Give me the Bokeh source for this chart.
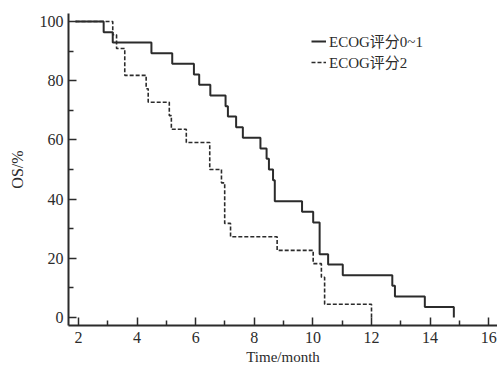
from bokeh.plotting import figure
from bokeh.models import Range1d, Legend, LegendItem, FixedTicker
from bokeh.embed import file_html
from bokeh.resources import INLINE

# ECOG 0~1 (solid) — Kaplan-Meier steps
t_ecog01 = [1.9, 2.86, 3.17, 4.49, 5.2, 5.94, 6.12, 6.5, 7.02, 7.1, 7.38, 7.61,
            8.21, 8.42, 8.5, 8.64, 8.7, 9.63, 10.01, 10.23, 10.52, 11.02,
            12.71, 12.8, 13.82, 14.81]
s_ecog01 = [100, 96.4, 92.9, 89.3, 85.7, 82.1, 78.6, 75.0, 71.4, 67.9, 64.3, 60.7,
            57.1, 53.6, 50.0, 46.4, 39.3, 35.7, 32.1, 21.4, 17.9, 14.3,
            10.7, 7.1, 3.6, 0]

# ECOG 2 (dashed)
t_ecog2 = [1.9, 3.17, 3.3, 3.58, 4.31, 4.38, 5.1, 5.17, 5.68, 6.48, 6.88, 6.99,
           7.19, 8.78, 10.01, 10.29, 10.4, 12.0]
s_ecog2 = [100, 95.5, 90.9, 81.8, 77.3, 72.7, 68.2, 63.6, 59.1, 50.0, 45.5, 31.8,
           27.3, 22.7, 18.2, 13.6, 4.5, 0]

x_ticks = [2, 4, 6, 8, 10, 12, 14, 16]
y_ticks = [0, 20, 40, 60, 80, 100]
label_01 = "ECOG评分0~1"
label_2 = "ECOG评分2"
x_title = "Time/month"
y_title = "OS/%"

FONT = "Liberation Serif, Noto Sans CJK SC"
INK = "#2b2b2b"

p = figure(width=497, height=367, output_backend="svg", toolbar_location=None,
           x_range=Range1d(1.66, 16.3), y_range=Range1d(-2.69, 102.7),
           min_border_left=68, min_border_right=0, min_border_top=13,
           min_border_bottom=41)
p.outline_line_color = None
p.grid.visible = False
p.background_fill_color = "white"
p.border_fill_color = "white"

r1 = p.step(t_ecog01, s_ecog01, mode="after", line_color=INK, line_width=2)
r2 = p.step(t_ecog2, s_ecog2, mode="after", line_color=INK, line_width=1.6,
            line_dash="4 2")

for ax in (p.xaxis[0], p.yaxis[0]):
    ax.axis_line_color = INK
    ax.axis_line_width = 2
    ax.major_tick_line_color = INK
    ax.minor_tick_line_color = INK
    ax.major_tick_line_width = 1.5
    ax.minor_tick_line_width = 1.5
    ax.major_tick_in = 8
    ax.major_tick_out = 0
    ax.minor_tick_in = 5
    ax.minor_tick_out = 0
    ax.major_label_text_font = FONT
    ax.major_label_text_font_size = "16px"
    ax.major_label_text_color = INK
    ax.axis_label_text_font = FONT
    ax.axis_label_text_font_size = "15px"
    ax.axis_label_text_font_style = "normal"
    ax.axis_label_text_color = INK

p.yaxis.axis_label_text_font_size = "16px"
p.xaxis.ticker = FixedTicker(ticks=x_ticks, minor_ticks=[3, 5, 7, 9, 11, 13, 15])
p.yaxis.ticker = FixedTicker(ticks=y_ticks, minor_ticks=[10, 30, 50, 70, 90])
p.xaxis.axis_label = x_title
p.yaxis.axis_label = y_title
p.xaxis.major_label_standoff = 6
p.yaxis.major_label_standoff = 5
p.xaxis.axis_label_standoff = 3
p.yaxis.axis_label_standoff = 11

legend = Legend(items=[LegendItem(label=label_01, renderers=[r1]),
                       LegendItem(label=label_2, renderers=[r2])],
                location=(243, 253), padding=0, margin=0, spacing=0,
                glyph_width=15, glyph_height=18, label_height=18,
                label_standoff=3,
                label_text_font=FONT, label_text_font_size="15px",
                label_text_color=INK,
                border_line_alpha=0, background_fill_alpha=0)
p.add_layout(legend)

open("out.html", "w").write(file_html(p, INLINE))
